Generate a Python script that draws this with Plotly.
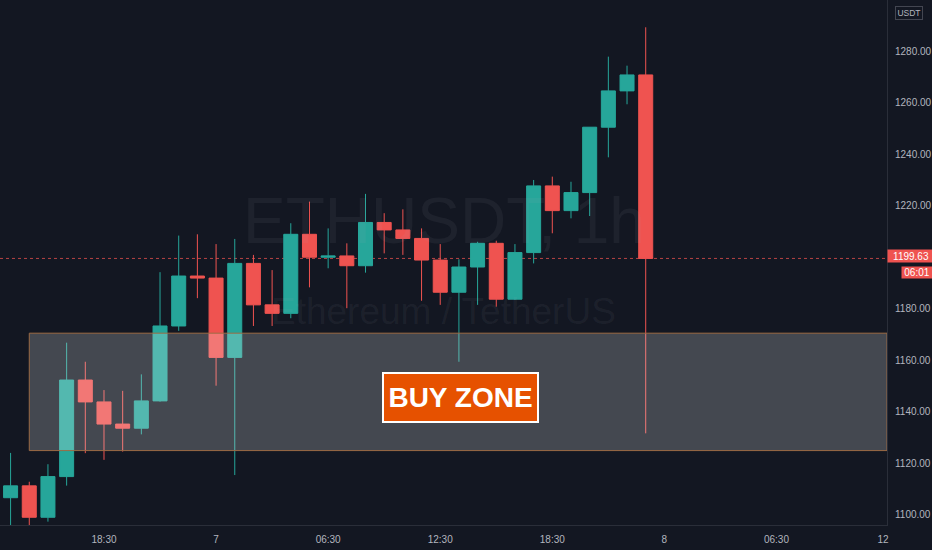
import pandas as pd
import plotly.graph_objects as go

# ---- data (ETHUSDT 1h) ----
times = pd.date_range("2023-01-06 13:30", periods=35, freq="h")
opens = [1106.7, 1111.3, 1099.1, 1114.9, 1152.4, 1143.9, 1135.3, 1133.7, 1144.3, 1173.4,
         1192.8, 1192.0, 1161.2, 1197.7, 1181.6, 1178.3, 1209.0, 1200.1, 1200.6, 1196.8,
         1213.6, 1210.7, 1207.4, 1199.0, 1186.5, 1196.3, 1205.5, 1183.8, 1201.9, 1227.8,
         1218.2, 1225.2, 1250.6, 1264.7, 1270.9]
highs = [1124.1, 1112.9, 1119.7, 1166.9, 1159.5, 1148.5, 1148.2, 1154.6, 1194.3, 1208.5,
         1209.0, 1205.2, 1207.2, 1201.0, 1195.1, 1213.3, 1221.7, 1211.3, 1205.5, 1224.7,
         1217.2, 1218.7, 1211.3, 1205.2, 1199.3, 1206.1, 1206.5, 1205.2, 1230.1, 1231.4,
         1229.4, 1250.6, 1278.0, 1274.5, 1289.4]
lows = [1095.5, 1096.0, 1097.4, 1111.4, 1124.0, 1121.4, 1124.6, 1131.3, 1144.0, 1171.5,
        1184.2, 1150.2, 1115.5, 1173.4, 1173.4, 1176.4, 1188.4, 1195.8, 1180.3, 1194.1,
        1201.6, 1201.0, 1183.2, 1181.6, 1159.5, 1181.6, 1180.9, 1183.5, 1197.7, 1209.4,
        1215.2, 1216.1, 1238.9, 1259.5, 1131.7]
closes = [1111.3, 1099.1, 1114.9, 1152.4, 1143.9, 1135.3, 1133.7, 1144.3, 1173.4, 1192.8,
          1192.0, 1161.2, 1197.7, 1181.6, 1178.3, 1209.0, 1200.1, 1200.6, 1196.8, 1213.6,
          1210.7, 1207.4, 1199.0, 1186.5, 1196.3, 1205.5, 1183.8, 1201.9, 1227.8, 1218.2,
          1225.2, 1250.6, 1264.7, 1270.9, 1199.63]

zone_low, zone_high = 1125.0, 1170.6
zone_start = times[1]

y_ticks = [1100, 1120, 1140, 1160, 1180, 1220, 1240, 1260, 1280]
x_tick_vals = ["2023-01-06 18:30", "2023-01-07 00:30", "2023-01-07 06:30", "2023-01-07 12:30",
               "2023-01-07 18:30", "2023-01-08 00:30", "2023-01-08 06:30", "2023-01-08 12:12"]
x_tick_text = ["18:30", "7", "06:30", "12:30", "18:30", "8", "06:30", "12"]
countdown = "06:01"

# ---- style ----
BG = "#131722"
UP = "#26a69a"
DOWN = "#ef5350"
TXT = "#b2b5be"
LINE = "#2a2e39"
FONT = "Liberation Sans, Arial, sans-serif"

x_range = [times[0] - pd.Timedelta(minutes=34), times[-1] + pd.Timedelta(hours=12, minutes=55)]
y_range = [1096.1, 1300.0]

fig = go.Figure()
fig.add_trace(go.Candlestick(
    x=times, open=opens, high=highs, low=lows, close=closes,
    increasing=dict(line=dict(color=UP, width=1), fillcolor=UP),
    decreasing=dict(line=dict(color=DOWN, width=1), fillcolor=DOWN),
    whiskerwidth=0, showlegend=False, hoverinfo="skip",
))

# last price dotted line
fig.add_shape(type="line", xref="paper", x0=0, x1=1, yref="y", y0=closes[-1], y1=closes[-1],
              line=dict(color="rgba(239,83,80,0.75)", width=1, dash="dot"), layer="below")

# buy zone rectangle
fig.add_shape(type="rect", xref="x", yref="y", x0=zone_start, x1=x_range[1],
              y0=zone_low, y1=zone_high, fillcolor="rgba(255,255,255,0.21)",
              line=dict(color="#9c6b45", width=1), layer="above")

annotations = [
    dict(text="ETHUSDT, 1h", xref="paper", yref="paper", x=0.5, y=0.579, showarrow=False,
         font=dict(family=FONT, size=64, color="rgba(178,181,190,0.075)")),
    dict(text="Ethereum / TetherUS", xref="paper", yref="paper", x=0.5, y=0.407, showarrow=False,
         font=dict(family=FONT, size=37, color="rgba(178,181,190,0.075)")),
    dict(text="<b>BUY ZONE</b>", xref="x", yref="y", x="2023-01-07 13:36", y=1145.5, showarrow=False,
         font=dict(family=FONT, size=28, color="white"), bgcolor="#e65100",
         bordercolor="white", borderwidth=2, borderpad=1, width=151, height=45),
    dict(text=f"{closes[-1]:.2f}", xref="paper", yref="y", x=1, y=closes[-1], xanchor="left",
         yshift=2, showarrow=False, font=dict(family=FONT, size=10, color="white"), bgcolor=DOWN,
         borderpad=1, width=44, height=10, align="center"),
    dict(text=countdown, xref="paper", yref="y", x=1, y=closes[-1], xanchor="left", yshift=-14,
         xshift=14, showarrow=False, font=dict(family=FONT, size=10, color="white"), bgcolor=DOWN,
         borderpad=1, width=28, height=9),
    dict(text="USDT", xref="paper", yref="paper", x=1, y=1, xanchor="left", yanchor="top",
         xshift=8, yshift=-6, showarrow=False, font=dict(family=FONT, size=8.5, color=TXT),
         bordercolor="#434651", borderwidth=1, borderpad=1, width=24, height=10),
]

fig.update_layout(
    width=932, height=550,
    margin=dict(l=0, r=45, t=0, b=25, pad=0, autoexpand=False),
    paper_bgcolor=BG, plot_bgcolor=BG,
    font=dict(family=FONT, size=10, color=TXT),
    boxgap=0.25, boxgroupgap=0,
    annotations=annotations,
    showlegend=False,
    xaxis=dict(type="date", range=x_range, rangeslider=dict(visible=False), automargin=False,
               tickvals=x_tick_vals, ticktext=x_tick_text, showgrid=False, zeroline=False,
               showline=True, linecolor=LINE, linewidth=1, ticks="", tickfont=dict(size=10, color=TXT),
               ticklabelstandoff=5),
    yaxis=dict(side="right", range=y_range, tickvals=y_ticks, tickformat=".2f", showgrid=False,
               automargin=False, zeroline=False, showline=True, linecolor=LINE, linewidth=1, ticks="",
               tickfont=dict(size=10, color=TXT), ticklabelstandoff=5),
)

fig.write_html("out.html", config={"displayModeBar": False},
               post_script="document.body.style.margin='0';document.body.style.background='#131722';")
